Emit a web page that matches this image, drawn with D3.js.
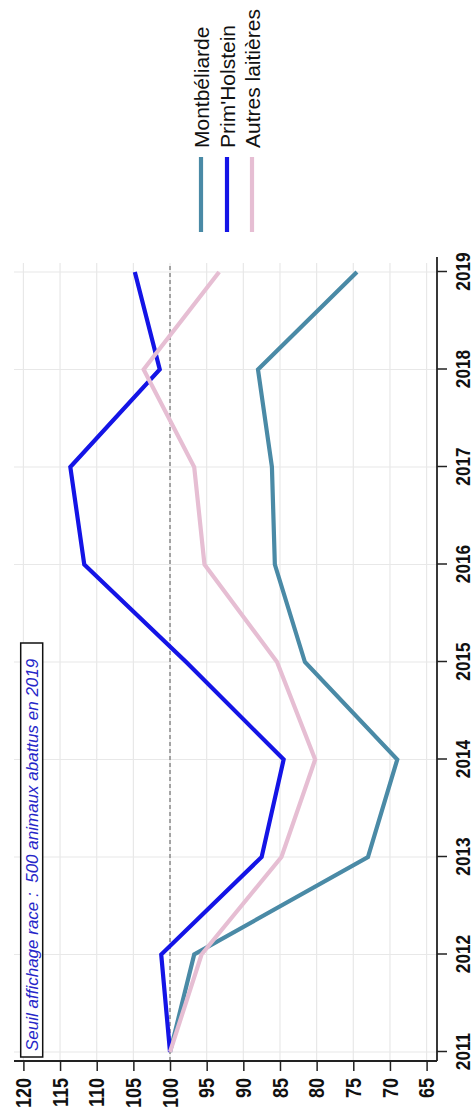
<!DOCTYPE html>
<html>
<head>
<meta charset="utf-8">
<script src="https://cdn.jsdelivr.net/npm/d3@7"></script>
<style>
  html, body { margin: 0; padding: 0; background: #fff; }
  svg { display: block; }
</style>
</head>
<body>
<svg id="chart" width="475" height="1118"></svg>
<script>
const years = [2011, 2012, 2013, 2014, 2015, 2016, 2017, 2018, 2019];
const montbeliarde = [100, 96.7, 73.0, 69.0, 81.6, 85.7, 86.1, 88.0, 74.5];
const primHolstein = [100, 101.2, 87.5, 84.5, 97.8, 111.7, 113.6, 101.4, 104.8];
const autresLaitieres = [100, 95.7, 84.8, 80.2, 85.4, 95.3, 96.7, 103.6, 93.3];
const seriesNames = ["Montbéliarde", "Prim'Holstein", "Autres laitières"];
const seriesColors = ["#4a8aa6", "#1414e6", "#e6bed3"];
const valueTicks = [120, 115, 110, 105, 100, 95, 90, 85, 80, 75, 70, 65];
const referenceValue = 100;
const annotation = "Seuil affichage race :  500 animaux abattus en 2019";

(function () {
const series = [montbeliarde, primHolstein, autresLaitieres];

const W = 1118;
const svg = d3.select("#chart");
// Chart drawn in an unrotated frame, then rotated -90°
const g = svg.append("g").attr("transform", `translate(0,${W}) rotate(-90)`);

const pLeft = 57, pRight = 855, pTop = 14, pBottom = 437;
const x = d3.scaleLinear().domain([2011, 2019]).range([66, 846]);
const y = d3.scaleLinear().domain([65, 120]).range([426.6, 23.4]);

const sans = "'Liberation Sans', Arial, Helvetica, sans-serif";
const squeeze = 0.82;

// grid
g.append("g").selectAll("line").data(valueTicks).join("line")
  .attr("x1", pLeft).attr("x2", pRight)
  .attr("y1", d => y(d)).attr("y2", d => y(d))
  .attr("stroke", "#e8e8e8").attr("stroke-width", 1.2);
g.append("g").selectAll("line").data(years).join("line")
  .attr("x1", d => x(d)).attr("x2", d => x(d))
  .attr("y1", pTop).attr("y2", pBottom)
  .attr("stroke", "#e8e8e8").attr("stroke-width", 1.2);

// reference line
g.append("line")
  .attr("x1", pLeft).attr("x2", pRight)
  .attr("y1", y(referenceValue)).attr("y2", y(referenceValue))
  .attr("stroke", "#8a8a8a").attr("stroke-width", 1.5)
  .attr("stroke-dasharray", "4,3");

// axes
const yAxis = g.append("g").attr("transform", `translate(${pLeft},0)`)
  .call(d3.axisLeft(y).tickValues(valueTicks).tickSize(10).tickPadding(7).tickFormat(d3.format("d")));
yAxis.select(".domain").remove();
yAxis.selectAll(".tick line").attr("stroke", "#222").attr("stroke-width", 1.5);
yAxis.selectAll("text").attr("font-family", sans).attr("font-weight", "bold")
  .attr("font-size", 22).attr("fill", "#111")
  .attr("x", -17 / squeeze).attr("transform", `scale(${squeeze},1)`);

const xAxis = g.append("g").attr("transform", `translate(0,${pBottom})`)
  .call(d3.axisBottom(x).tickValues(years).tickSize(10).tickPadding(8).tickFormat(d3.format("d")));
xAxis.select(".domain").remove();
xAxis.selectAll(".tick line").attr("stroke", "#222").attr("stroke-width", 1.5);
xAxis.selectAll("text").attr("font-family", sans).attr("font-weight", "bold")
  .attr("font-size", 21).attr("fill", "#111")
  .attr("transform", `scale(${squeeze},1)`);

g.append("line").attr("x1", pLeft).attr("x2", pLeft).attr("y1", pTop).attr("y2", pBottom)
  .attr("stroke", "#222").attr("stroke-width", 1.8);
g.append("line").attr("x1", pLeft).attr("x2", 861).attr("y1", pBottom).attr("y2", pBottom)
  .attr("stroke", "#222").attr("stroke-width", 1.8);

// series lines
const line = d3.line().x((d, i) => x(years[i])).y(d => y(d));
series.forEach((s, k) => {
  g.append("path").datum(s)
    .attr("d", line)
    .attr("fill", "none")
    .attr("stroke", seriesColors[k])
    .attr("stroke-width", 4.2)
    .attr("stroke-linejoin", "miter");
});

// annotation box
const ann = g.append("g");
ann.append("rect").attr("x", 61).attr("y", 20.7).attr("width", 414).attr("height", 22)
  .attr("fill", "#fff").attr("stroke", "#111").attr("stroke-width", 1.5);
ann.append("text").attr("x", 67).attr("y", 32).attr("dy", "0.35em")
  .attr("font-family", sans).attr("font-style", "italic").attr("font-size", 17)
  .attr("fill", "#2626c8").style("white-space", "pre")
  .text(annotation);

// legend
const lg = g.append("g");
const legendY = [201, 227, 252];
seriesNames.forEach((n, k) => {
  lg.append("line").attr("x1", 886).attr("x2", 961)
    .attr("y1", legendY[k]).attr("y2", legendY[k])
    .attr("stroke", seriesColors[k]).attr("stroke-width", 4.2);
  lg.append("text").attr("x", 970).attr("y", legendY[k]).attr("dy", "0.36em")
    .attr("font-family", sans).attr("font-size", 21).attr("fill", "#111")
    .text(n);
});
})();
</script>
</body>
</html>
